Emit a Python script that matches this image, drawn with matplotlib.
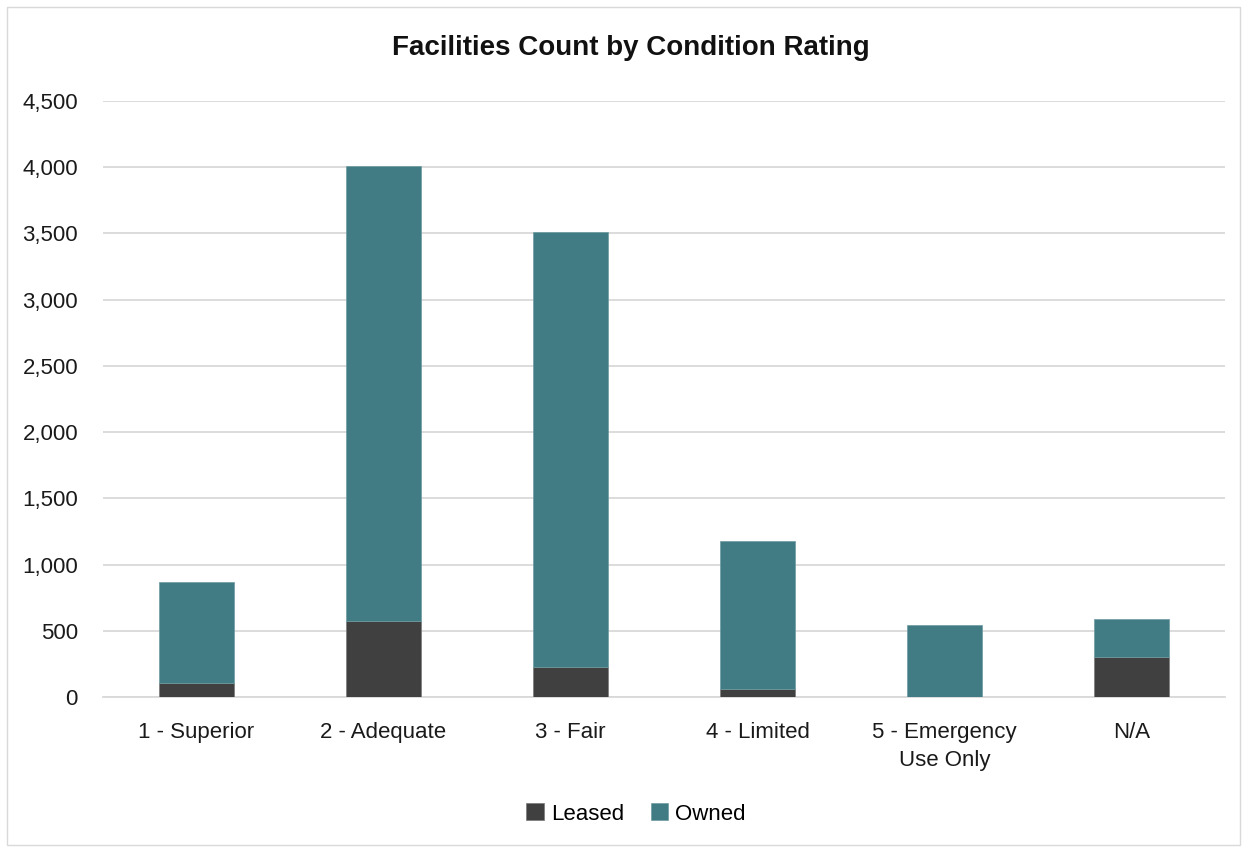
import matplotlib
matplotlib.use("Agg")
import matplotlib.pyplot as plt
from matplotlib.patches import Rectangle
from matplotlib.ticker import FuncFormatter
import numpy as np

categories = ["1 - Superior", "2 - Adequate", "3 - Fair", "4 - Limited", "5 - Emergency\nUse Only", "N/A"]
leased = [106, 576, 227, 58, 3, 303]
owned = [760, 3430, 3285, 1122, 541, 286]
yticks = [0, 500, 1000, 1500, 2000, 2500, 3000, 3500, 4000, 4500]

plt.rcParams['font.family'] = ['Liberation Sans Narrow', 'Liberation Sans', 'DejaVu Sans']

fig = plt.figure(figsize=(12.48, 8.51), dpi=100)
fig.patches.append(Rectangle((7/1248, 6/851), 1233/1248, 838/851, transform=fig.transFigure,
                             fill=False, edgecolor='#D9D9D9', linewidth=1.0))
ax = fig.add_axes([103/1248, 154/851, 1122/1248, 596/851])

x = np.arange(len(categories))
w = 0.4
ax.bar(x, leased, w, color='#404040', label='Leased', edgecolor='#7a7a7a', linewidth=0.5, zorder=3)
ax.bar(x, owned, w, bottom=leased, color='#417B83', label='Owned', edgecolor='#6e9ca2', linewidth=0.5, zorder=3)

ax.set_xlim(-0.5, len(categories) - 0.5)
ax.set_ylim(0, 4500)
ax.set_yticks(yticks)
ax.yaxis.set_major_formatter(FuncFormatter(lambda v, p: f"{int(v):,}"))
ax.set_xticks(x)
ax.set_xticklabels(categories, fontsize=16, color='#1a1a1a', linespacing=1.45)
ax.tick_params(axis='y', labelsize=16, colors='#1a1a1a', length=0, pad=18)
ax.tick_params(axis='x', length=0, pad=18, colors='#1a1a1a')
ax.grid(axis='y', color='#D9D9D9', linewidth=1.3, zorder=0)
for s in ['top', 'right', 'left']:
    ax.spines[s].set_visible(False)
ax.spines['bottom'].set_color('#D9D9D9')
ax.spines['bottom'].set_linewidth(1.3)

fig.text(631/1248, 1 - 48/851, "Facilities Count by Condition Rating", ha='center', va='center',
         fontsize=20, fontweight='bold', color='#111111')

fig.legend(loc='center', bbox_to_anchor=(636/1248, 1 - 814/851), ncol=2, frameon=False,
           fontsize=16, handlelength=0.8, handleheight=0.8, handletextpad=0.3, columnspacing=1.2)

fig.savefig("out.png", dpi=100, facecolor='white')
